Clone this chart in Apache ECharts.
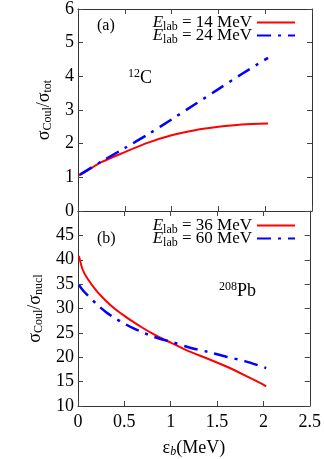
<!DOCTYPE html>
<html>
<head>
<meta charset="utf-8">
<script src="https://cdn.jsdelivr.net/npm/echarts@6/dist/echarts.min.js"></script>
<style>
  html, body { margin: 0; padding: 0; background: #fff; }
  #chart { width: 324px; height: 459px; }
</style>
</head>
<body>
<div id="chart"></div>
<script>
// panel (a): 12C
const xA14 = [0.01, 0.1, 0.25, 0.5, 0.75, 1.0, 1.25, 1.5, 1.75, 2.03]
const yA14 = [1.06, 1.2, 1.45, 1.75, 2.03, 2.25, 2.40, 2.50, 2.57, 2.60]
const xA24 = [0.02, 0.25, 0.5, 0.75, 1.0, 1.25, 1.5, 1.75, 2.03]
const yA24 = [1.08, 1.47, 1.87, 2.28, 2.72, 3.17, 3.62, 4.07, 4.55]

// panel (b): 208Pb
const xB36 = [0.01, 0.05, 0.1, 0.2, 0.3, 0.4, 0.5, 0.6, 0.7, 0.8, 0.9, 1.0, 1.2, 1.4, 1.6, 1.8, 2.0, 2.03]
const yB36 = [40.8, 38.0, 36.2, 33.6, 31.6, 29.9, 28.5, 27.2, 26.0, 24.9, 23.9, 23.0, 21.2, 19.7, 18.1, 16.3, 14.4, 14.0]
const xB60 = [0.01, 0.05, 0.1, 0.2, 0.3, 0.4, 0.5, 0.6, 0.7, 0.8, 0.9, 1.0, 1.2, 1.4, 1.6, 1.8, 2.03]
const yB60 = [34.8, 33.8, 32.8, 30.9, 29.3, 28.0, 26.9, 25.9, 25.1, 24.3, 23.7, 23.2, 22.0, 21.1, 20.1, 19.2, 17.8]

const xTicks = [0, 0.5, 1, 1.5, 2, 2.5]
const yTicksA = [0, 1, 2, 3, 4, 5, 6]
const yTicksB = [10, 15, 20, 25, 30, 35, 40, 45, 50]

const names = ['14', '24', '36', '60']

const pairs = (xs, ys) => xs.map((x, i) => [x, ys[i]])

const serif = 'Liberation Serif, DejaVu Serif, serif'
const frame = { show: true, onZero: false, lineStyle: { color: '#333', width: 1 } }
const tickIn = { show: true, inside: true, length: 5, lineStyle: { color: '#444' } }
const rich = {
  e: { fontFamily: serif, fontStyle: 'italic', fontSize: 17, color: '#000' },
  sub: { fontFamily: serif, fontSize: 12, color: '#000', padding: [8, 0, 0, 0] },
  t: { fontFamily: serif, fontSize: 17, color: '#000' }
}
const supRich = {
  sup: { fontFamily: serif, fontSize: 12, fill: '#000', padding: [0, 0, 8, 0] },
  t: { fontFamily: serif, fontSize: 18, fill: '#000' }
}
const nameRich = {
  s: { fontFamily: serif, fontSize: 18, color: '#000' },
  sub: { fontFamily: serif, fontSize: 12, color: '#000', padding: [8, 0, 0, 0] }
}

const chart = echarts.init(document.getElementById('chart'))

const xAxisBase = (grid, pos, labels) => ({
  type: 'value', gridIndex: grid, position: pos, min: xTicks[0], max: xTicks[xTicks.length - 1],
  interval: xTicks[1] - xTicks[0],
  axisLine: frame, axisTick: tickIn, splitLine: { show: false },
  axisLabel: { show: labels, color: '#000', fontFamily: serif, fontSize: 18, margin: 7 }
})
const yAxisBase = (grid, pos, ticks, labels, extra) => Object.assign({
  type: 'value', gridIndex: grid, position: pos,
  min: ticks[0], max: ticks[ticks.length - 1], interval: ticks[1] - ticks[0],
  axisLine: frame, axisTick: tickIn, splitLine: { show: false },
  axisLabel: { show: labels, color: '#000', fontFamily: serif, fontSize: 18, margin: 4 }
}, extra || {})

const dashDot = [14, 7, 3, 7]

const lineSeries = (name, ai, xs, ys, color, dashed) => ({
  name, type: 'line', xAxisIndex: ai, yAxisIndex: ai, smooth: 0.3,
  symbol: 'none', data: pairs(xs, ys),
  lineStyle: { color, width: dashed ? 2.5 : 2, type: dashed ? dashDot : 'solid' },
  itemStyle: { color }
})

// one legend per entry so the rows can sit close together
const legendItem = (name, top) => ({
  data: [name], right: 28, top, orient: 'vertical', align: 'right',
  itemWidth: 38, itemHeight: 12, padding: 0,
  itemStyle: { opacity: 0 },
  formatter: n => `{e|E}{sub|lab}{t| = ${n} MeV}`, textStyle: { rich }
})

chart.setOption({
  animation: false,
  backgroundColor: '#fff',
  grid: [
    { left: 78, right: 12, top: 8, height: 203 },
    { left: 78, right: 12, top: 211, height: 205 }
  ],
  xAxis: [
    xAxisBase(0, 'bottom', false),
    xAxisBase(0, 'top', false),
    Object.assign(xAxisBase(1, 'bottom', true), {
      name: '{g|ε}{b|b}{t|(MeV)}', nameLocation: 'middle', nameGap: 32,
      nameTextStyle: {
        rich: {
          g: { fontFamily: serif, fontSize: 18, color: '#000' },
          b: { fontFamily: serif, fontStyle: 'italic', fontSize: 12, color: '#000', padding: [8, 0, 0, 0] },
          t: { fontFamily: serif, fontSize: 18, color: '#000' }
        }
      }
    }),
    xAxisBase(1, 'top', false)
  ],
  yAxis: [
    yAxisBase(0, 'left', yTicksA, true, {
      name: '{s|σ}{sub|Coul}{s|/σ}{sub|tot}', nameLocation: 'middle', nameGap: 12,
      nameTextStyle: { rich: nameRich }
    }),
    yAxisBase(0, 'right', yTicksA, false),
    yAxisBase(1, 'left', yTicksB, true, {
      axisLabel: { show: true, color: '#000', fontFamily: serif, fontSize: 18, margin: 4, showMaxLabel: false },
      name: '{s|σ}{sub|Coul}{s|/σ}{sub|nucl}', nameLocation: 'middle', nameGap: 19,
      nameTextStyle: { rich: nameRich }
    }),
    yAxisBase(1, 'right', yTicksB, false)
  ],
  legend: [
    legendItem(names[0], 14),
    legendItem(names[1], 27),
    legendItem(names[2], 217),
    legendItem(names[3], 230)
  ],
  series: [
    lineSeries(names[0], 0, xA14, yA14, '#ff0000', false),
    lineSeries(names[1], 0, xA24, yA24, '#0000ff', true),
    lineSeries(names[2], 2, xB36, yB36, '#ff0000', false),
    lineSeries(names[3], 2, xB60, yB60, '#0000ff', true)
  ],
  graphic: [
    { type: 'text', left: 97, top: 18, style: { text: '(a)', font: '16px ' + serif, fill: '#000' } },
    { type: 'text', left: 97, top: 231, style: { text: '(b)', font: '16px ' + serif, fill: '#000' } },
    { type: 'text', left: 128, top: 68, style: { text: '{sup|12}{t|C}', rich: supRich } },
    { type: 'text', left: 219, top: 281, style: { text: '{sup|208}{t|Pb}', rich: supRich } }
  ]
})
</script>
</body>
</html>
